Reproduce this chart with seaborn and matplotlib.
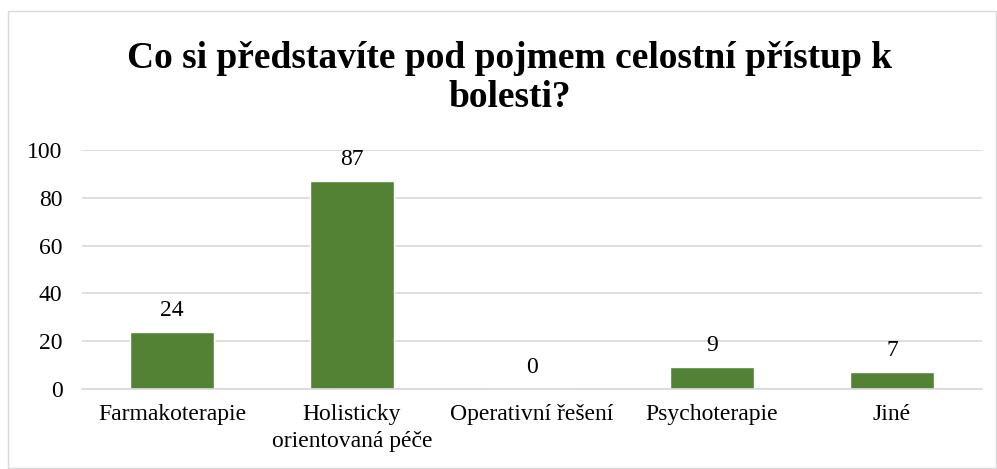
import matplotlib
matplotlib.use("Agg")
import matplotlib.pyplot as plt
import seaborn as sns
import pandas as pd
from matplotlib.patches import Rectangle

categories = ["Farmakoterapie", "Holisticky\norientovaná péče", "Operativní řešení", "Psychoterapie", "Jiné"]
values = [24, 87, 0, 9, 7]
yticks = [0, 20, 40, 60, 80, 100]
title = "Co si představíte pod pojmem celostní přístup k\nbolesti?"

sns.set_theme(style="white")
plt.rcParams['font.family'] = ['Liberation Serif', 'DejaVu Serif']

df = pd.DataFrame({"cat": categories, "val": values})

fig = plt.figure(figsize=(9.97, 4.69), dpi=100)
ax = fig.add_axes([82/997, 1-389/469, 900/997, (389-150)/469])

sns.barplot(data=df, x="cat", y="val", color="#548235", width=0.47, saturation=1, ax=ax)

fs = 17
ax.set_ylim(0, 100)
ax.set_xlim(-0.5, len(categories)-0.5)
ax.set_yticks(yticks)
ax.set_yticklabels([str(t) for t in yticks], fontsize=fs, color="#000000")
ax.yaxis.grid(True, color="#d9d9d9", linewidth=1.2)
ax.set_axisbelow(True)
ax.set_xlabel("")
ax.set_ylabel("")
ax.tick_params(axis='x', length=0, labelsize=fs, pad=11, colors="#000000")
ax.tick_params(axis='y', length=0, pad=14)
for lab in ax.get_xticklabels():
    lab.set_linespacing(1.35)
ax.set_xticks([i - 0.5 for i in range(len(categories)+1)], minor=True)
ax.tick_params(axis='x', which='minor', length=7, color="#d9d9d9", width=1.2)
for s in ["top", "right", "left"]:
    ax.spines[s].set_visible(False)
ax.spines["bottom"].set_color("#d9d9d9")
ax.spines["bottom"].set_linewidth(1.2)

for i, v in enumerate(values):
    ax.annotate(str(v), (i, v), xytext=(0, 8), textcoords="offset points",
                ha="center", va="bottom", fontsize=fs, color="#000000")

fig.text(510/997, 1-41/469, title, ha="center", va="top", fontsize=27,
         fontweight="bold", linespacing=1.15, color="#000000")

fig.patches.append(Rectangle((8/997, 1-468/469), 988/997, 457/469, transform=fig.transFigure,
                             fill=False, edgecolor="#d9d9d9", linewidth=1))

fig.savefig("out.png", dpi=100)
